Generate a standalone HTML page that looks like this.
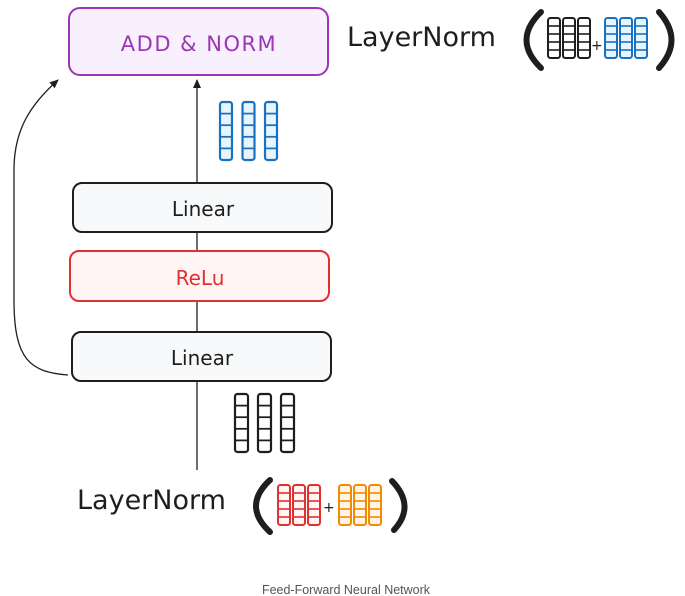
<!DOCTYPE html>
<html><head><meta charset="utf-8"><style>
html,body{margin:0;padding:0;background:#fff;width:685px;height:596px;overflow:hidden}
svg{display:block}
.h{font-family:"DejaVu Sans","Liberation Sans",sans-serif}
</style></head><body>
<svg id="s" width="685" height="596" viewBox="0 0 685 596" xmlns="http://www.w3.org/2000/svg">
<defs><marker id="ar" markerWidth="10" markerHeight="10" refX="8" refY="5" orient="auto" markerUnits="userSpaceOnUse"><path d="M0,1 L9,5 L0,9 Z" fill="#1e1e1e"/></marker></defs>
<rect x="69" y="8" width="259" height="67" rx="11" fill="#f8f0fc" stroke="#9c36b5" stroke-width="2"/>
<text x="199" y="51" text-anchor="middle" class="h" font-size="21" fill="#9c36b5" letter-spacing="1.5">ADD &amp; NORM</text>
<line x1="197" y1="470" x2="197" y2="80" stroke="#1e1e1e" stroke-width="1.3" marker-end="url(#ar)"/>
<path d="M68,375 C30,372 14,360 14,300 L14,170 C14,130 30,105 58,80" fill="none" stroke="#1e1e1e" stroke-width="1.3" marker-end="url(#ar)"/>
<rect x="73" y="183" width="259" height="49" rx="9" fill="#f8f9fa" stroke="#1e1e1e" stroke-width="2"/>
<text x="203" y="216" text-anchor="middle" class="h" font-size="20" fill="#1e1e1e">Linear</text>
<rect x="70" y="251" width="259" height="50" rx="9" fill="#fff5f5" stroke="#e03131" stroke-width="2"/>
<text x="200" y="285" text-anchor="middle" class="h" font-size="20" fill="#e03131">ReLu</text>
<rect x="72" y="332" width="259" height="49" rx="9" fill="#f8f9fa" stroke="#1e1e1e" stroke-width="2"/>
<text x="202" y="365" text-anchor="middle" class="h" font-size="20" fill="#1e1e1e">Linear</text>
<text x="347" y="46" class="h" font-size="27" fill="#1e1e1e">LayerNorm</text>
<path d="M541,12 Q512,40 541,68" fill="none" stroke="#1e1e1e" stroke-width="6" stroke-linecap="round"/>
<text x="591" y="50" class="h" font-size="14" fill="#1e1e1e">+</text>
<path d="M659,12 Q684,40 659,68" fill="none" stroke="#1e1e1e" stroke-width="6" stroke-linecap="round"/>
<text x="77" y="509" class="h" font-size="27" fill="#1e1e1e">LayerNorm</text>
<path d="M270,480 Q242,506 270,532" fill="none" stroke="#1e1e1e" stroke-width="6" stroke-linecap="round"/>
<text x="323" y="512" class="h" font-size="14" fill="#1e1e1e">+</text>
<path d="M392,481 Q416,506 394,530" fill="none" stroke="#1e1e1e" stroke-width="6" stroke-linecap="round"/>
<text x="346" y="594" text-anchor="middle" font-family="Liberation Sans,sans-serif" font-size="12.5" fill="#555">Feed-Forward Neural Network</text>
<g id="stacks"></g>
</svg>
<script>
var g=document.getElementById('stacks'),ns='http://www.w3.org/2000/svg';
function stack(x0,y0,w,h,gap,n,col,fill,sw){
 for(var c=0;c<3;c++){var x=x0+c*(w+gap);
  var r=document.createElementNS(ns,'rect');
  r.setAttribute('x',x);r.setAttribute('y',y0);r.setAttribute('width',w);r.setAttribute('height',h);r.setAttribute('rx',2.5);
  r.setAttribute('fill',fill);r.setAttribute('stroke',col);r.setAttribute('stroke-width',sw);g.appendChild(r);
  for(var k=1;k<n;k++){var l=document.createElementNS(ns,'line');var yy=y0+h*k/n;
   l.setAttribute('x1',x);l.setAttribute('x2',x+w);l.setAttribute('y1',yy);l.setAttribute('y2',yy);
   l.setAttribute('stroke',col);l.setAttribute('stroke-width',sw*0.8);g.appendChild(l);}
 }}
stack(220,102,12,58,10.5,5,'#1971c2','#e7f5ff',2.2);
stack(235,394,13,58,10,5,'#1e1e1e','#fff',2.2);
stack(548,18,12,40,3,5,'#1e1e1e','#fff',2);
stack(605,18,12,40,3,5,'#1971c2','#e7f5ff',2);
stack(278,485,12,40,3,5,'#e03131','#fff5f5',2);
stack(339,485,12,40,3,5,'#f08c00','#fff4e6',2);
</script>
</body></html>
